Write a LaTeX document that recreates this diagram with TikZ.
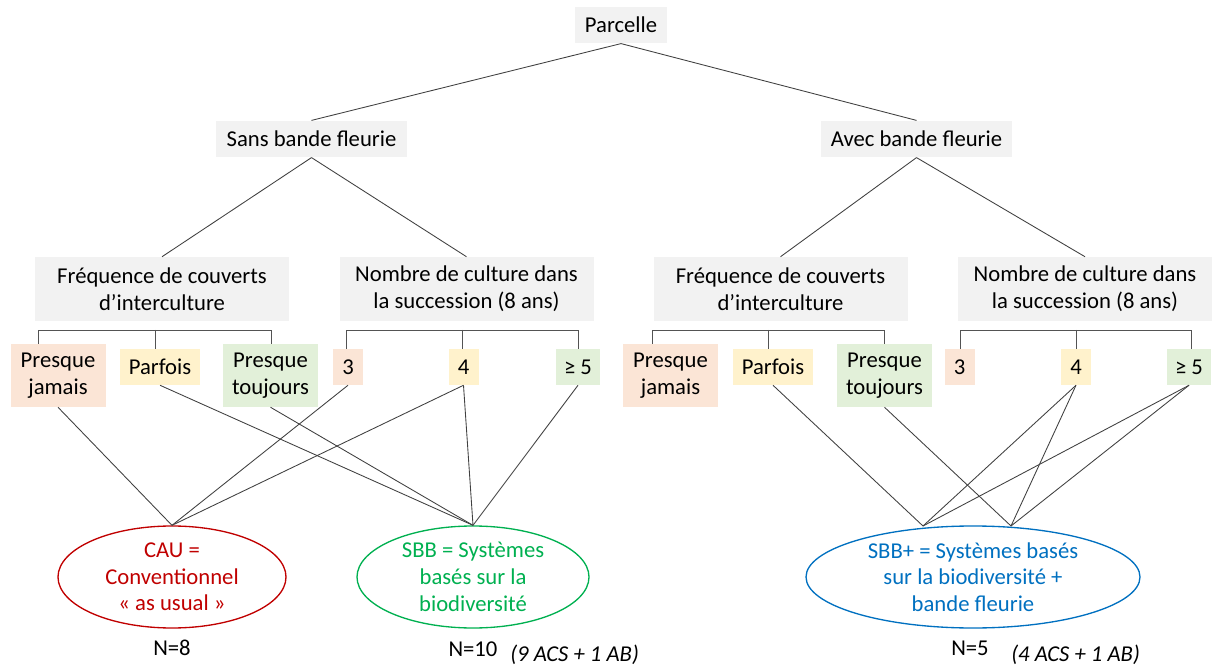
\documentclass[tikz,border=0pt]{standalone}
\usepackage{fontspec}
\setmainfont{Carlito}
\usetikzlibrary{shapes.geometric}
\definecolor{boxgray}{HTML}{F2F2F2}
\definecolor{cpink}{HTML}{FBE5D6}
\definecolor{cyel}{HTML}{FFF2CC}
\definecolor{cgreen}{HTML}{E2F0D9}
\definecolor{cred}{HTML}{C00000}
\definecolor{cgrn}{HTML}{00B050}
\definecolor{cblue}{HTML}{0070C0}
\definecolor{lnc}{HTML}{404040}
\begin{document}
\begin{tikzpicture}[x=0.75pt,y=-0.75pt,
  every node/.style={font=\fontsize{17}{20}\selectfont, inner sep=0pt, align=center},
  gbox/.style={fill=boxgray, minimum height=27.5pt},
  catbox/.style={fill=boxgray, minimum width=190.5pt, minimum height=48pt},
  tallleaf/.style={minimum width=71.25pt, minimum height=47.25pt},
  shortleaf/.style={minimum height=27pt},
  conn/.style={draw=lnc, line width=0.65pt},
  brk/.style={draw=lnc!90, line width=0.7pt},
  sysell/.style={ellipse, draw, line width=1pt, minimum height=76.5pt},
  ntext/.style={text=black}
]
\useasboundingbox (0,0) rectangle (1213,666);

% top levels
\node[gbox, minimum width=69pt] (parcelle) at (621,25) {Parcelle};
\node[gbox, minimum width=143.25pt] (sans) at (311.5,139) {Sans bande fleurie};
\node[gbox, minimum width=143.25pt] (avec) at (916.5,139) {Avec bande fleurie};

\node[catbox] (freq1) at (162,289) {Fréquence de couverts\\d’interculture};
\node[catbox] (nomb1) at (466.5,289) {Nombre de culture dans\\la succession (8 ans)};
\node[catbox] (freq2) at (780.5,289) {Fréquence de couverts\\d’interculture};
\node[catbox] (nomb2) at (1085,289) {Nombre de culture dans\\la succession (8 ans)};

\draw[conn] (parcelle.south) -- (sans.north);
\draw[conn] (parcelle.south) -- (avec.north);
\draw[conn] (sans.south) -- (freq1.north);
\draw[conn] (sans.south) -- (nomb1.north);
\draw[conn] (avec.south) -- (freq2.north);
\draw[conn] (avec.south) -- (nomb2.north);

% leaves left
\node[tallleaf, fill=cpink] (pj1) at (58,375.5) {Presque\\jamais};
\node[shortleaf, fill=cyel, minimum width=60pt] (pa1) at (160,367) {Parfois};
\node[tallleaf, fill=cgreen] (pt1) at (270.5,375.5) {Presque\\toujours};
\node[shortleaf, fill=cpink, minimum width=22.5pt] (n31) at (348,367) {3};
\node[shortleaf, fill=cyel, minimum width=22.5pt] (n41) at (463.5,367) {4};
\node[shortleaf, fill=cgreen, minimum width=33pt] (n51) at (578,367) {≥ 5};
% leaves right
\node[tallleaf, fill=cpink] (pj2) at (670.5,375.5) {Presque\\jamais};
\node[shortleaf, fill=cyel, minimum width=60pt] (pa2) at (773,367) {Parfois};
\node[tallleaf, fill=cgreen] (pt2) at (884.5,375.5) {Presque\\toujours};
\node[shortleaf, fill=cpink, minimum width=22.5pt] (n32) at (959.5,367) {3};
\node[shortleaf, fill=cyel, minimum width=22.5pt] (n42) at (1076,367) {4};
\node[shortleaf, fill=cgreen, minimum width=33pt] (n52) at (1189,367) {≥ 5};

% brackets
\coordinate (b1a) at (38,330); \coordinate (b1b) at (155,330); \coordinate (b1c) at (271,330);
\draw[brk] (b1a |- pj1.north) -- (b1a) -- (b1c) -- (b1c |- pt1.north);
\draw[brk] (b1b) -- (b1b |- pa1.north);
\coordinate (b2a) at (346,330); \coordinate (b2b) at (462,330); \coordinate (b2c) at (578,330);
\draw[brk] (b2a |- n31.north) -- (b2a) -- (b2c) -- (b2c |- n51.north);
\draw[brk] (b2b) -- (b2b |- n41.north);
\coordinate (b3a) at (652,330); \coordinate (b3b) at (768,330); \coordinate (b3c) at (884,330);
\draw[brk] (b3a |- pj2.north) -- (b3a) -- (b3c) -- (b3c |- pt2.north);
\draw[brk] (b3b) -- (b3b |- pa2.north);
\coordinate (b4a) at (960,330); \coordinate (b4b) at (1076,330); \coordinate (b4c) at (1191,330);
\draw[brk] (b4a |- n32.north) -- (b4a) -- (b4c) -- (b4c |- n52.north);
\draw[brk] (b4b) -- (b4b |- n42.north);

% systems
\node[sysell, draw=cred, text=cred, minimum width=171pt] (cau) at (172,577) {CAU =\\Conventionnel\\« as usual »};
\node[sysell, draw=cgrn, text=cgrn, minimum width=174pt] (sbb) at (473,577) {SBB = Systèmes\\basés sur la\\biodiversité};
\node[sysell, draw=cblue, text=cblue, minimum width=250.5pt] (sbbp) at (973,577) {SBB+ = Systèmes basés\\sur la biodiversité +\\bande fleurie};
\coordinate (sa) at (923,526);
\coordinate (sb) at (1011,526);

% leaf connectors left
\draw[conn] (pj1.south) -- (cau.north);
\draw[conn] (n31.south) -- (cau.north);
\draw[conn] (n41.south) -- (cau.north);
\draw[conn] (pa1.south) -- (sbb.north);
\draw[conn] (pt1.south) -- (sbb.north);
\draw[conn] (n41.south) -- (sbb.north);
\draw[conn] (n51.south) -- (sbb.north);
% right
\draw[conn] (pa2.south) -- (sa);
\draw[conn] (n42.south) -- (sa);
\draw[conn] (n52.south) -- (sa);
\draw[conn] (pt2.south) -- (sb);
\draw[conn] (n42.south) -- (sb);
\draw[conn] (n52.south) -- (sb);

% counts
\node (n8) at (172,648) {N=8};
\node (n10) at (473,649) {N=10};
\node[anchor=west] (acs1) at (510,655) {\itshape (9 ACS + 1 AB)};
\node (n5) at (970,648) {N=5};
\node[anchor=west] (acs2) at (1011,655) {\itshape (4 ACS + 1 AB)};
\end{tikzpicture}
\end{document}
